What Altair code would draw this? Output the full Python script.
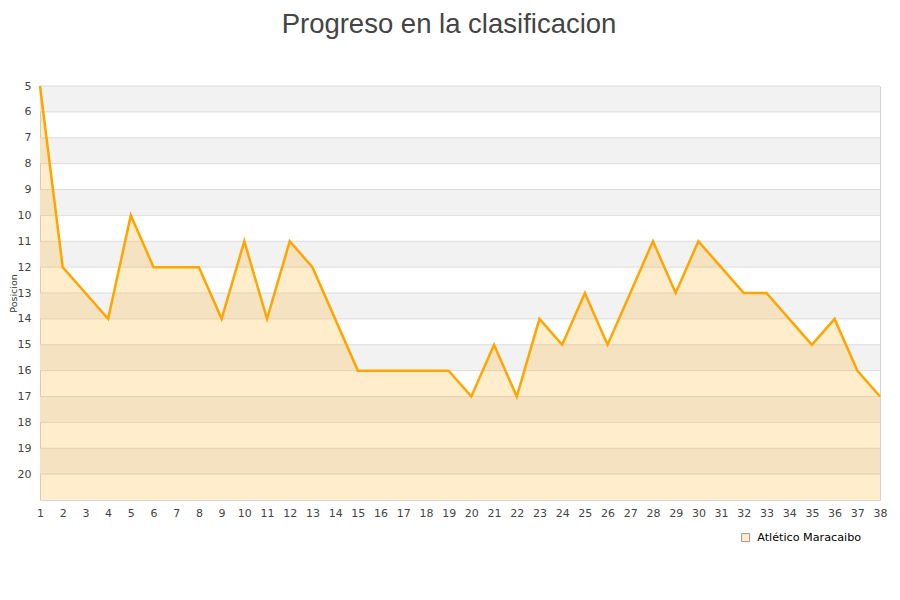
import altair as alt
import pandas as pd

jornadas = list(range(1, 39))
posiciones = [5, 12, 13, 14, 10, 12, 12, 12, 14, 11, 14, 11, 12, 14, 16, 16, 16, 16, 16,
              17, 15, 17, 14, 15, 13, 15, 13, 11, 13, 11, 12, 13, 13, 14, 15, 14, 16, 17]
equipo = "Atlético Maracaibo"
band_starts = [5, 7, 9, 11, 13, 15, 17, 19]
grid_values = list(range(5, 21))
y_labels = list(range(5, 21))

df = pd.DataFrame({"jornada": jornadas, "posicion": posiciones, "equipo": equipo})
bands = pd.DataFrame({"y0": band_starts, "y1": [b + 1 for b in band_starts]})
grid = pd.DataFrame({"g": grid_values})

W, H = 840, 414
yscale = alt.Scale(domain=[5, 21], reverse=True, nice=False, zero=False)
xscale = alt.Scale(domain=[1, 38], nice=False, zero=False)

yaxis = alt.Axis(values=y_labels, title="Posicion", grid=False, ticks=False,
                 domain=False, labelFontSize=11, labelColor="#444",
                 labelPadding=9, labelFont="DejaVu Sans", labelOverlap=False,
                 titleFont="DejaVu Sans", titleFontSize=9.5,
                 titleFontWeight="normal", titleColor="#333",
                 titleAngle=-90, titleX=-27, titleY=H / 2,
                 titleAlign="center", titleBaseline="middle")
xaxis = alt.Axis(values=jornadas, title=None, grid=False, ticks=False,
                 domain=False, labelFontSize=11, labelColor="#444",
                 labelPadding=7, labelFont="DejaVu Sans", labelFlush=False,
                 labelOverlap=False)

band_layer = alt.Chart(bands).mark_rect(color="#f2f2f2").encode(
    y=alt.Y("y0:Q", scale=yscale, axis=yaxis),
    y2="y1:Q",
    x=alt.value(0),
    x2=alt.value(W),
)

grid_layer = alt.Chart(grid).mark_rule(color="#dddddd", strokeWidth=1).encode(
    y=alt.Y("g:Q", scale=yscale, axis=yaxis),
    x=alt.value(0),
    x2=alt.value(W),
)

area_layer = alt.Chart(df).mark_area(fillOpacity=0.2, color="#ffa500").encode(
    x=alt.X("jornada:Q", scale=xscale, axis=xaxis),
    y=alt.Y("posicion:Q", scale=yscale, axis=yaxis),
    y2=alt.datum(21),
)

line_layer = alt.Chart(df).mark_line(color="#ffa500", strokeWidth=2.5).encode(
    x=alt.X("jornada:Q", scale=xscale, axis=xaxis),
    y=alt.Y("posicion:Q", scale=yscale, axis=yaxis),
)

legend_layer = alt.Chart(df).mark_point(shape="square", filled=True, opacity=0).encode(
    x=alt.X("jornada:Q", scale=xscale, axis=xaxis),
    y=alt.Y("posicion:Q", scale=yscale, axis=yaxis),
    fill=alt.Fill("equipo:N", scale=alt.Scale(range=["#ffedcc"]),
                  legend=alt.Legend(title=None, orient="none", legendX=700, legendY=446,
                                    symbolType="square", symbolSize=64,
                                    symbolStrokeColor="#999999",
                                    symbolStrokeWidth=1, symbolOpacity=1,
                                    labelFontSize=11.2, labelColor="#000",
                                    labelFont="DejaVu Sans", labelOffset=6)),
)

chart = alt.layer(band_layer, grid_layer, area_layer, line_layer, legend_layer).resolve_scale(
    y="shared", x="shared"
).properties(
    width=W,
    height=H,
    title=alt.TitleParams("Progreso en la clasificacion", fontSize=27.5, font="Liberation Sans",
                          fontWeight="normal", color="#444", anchor="middle",
                          offset=42, dx=-11),
    autosize=alt.AutoSizeParams(type="none"),
    padding={"left": 32, "top": 78, "right": 12, "bottom": 92},
).configure_view(stroke="#d4d4d4", strokeWidth=1).configure_axis(labelOverlap=False)

chart.save("out.html", embed_options={"renderer": "svg", "actions": False})
